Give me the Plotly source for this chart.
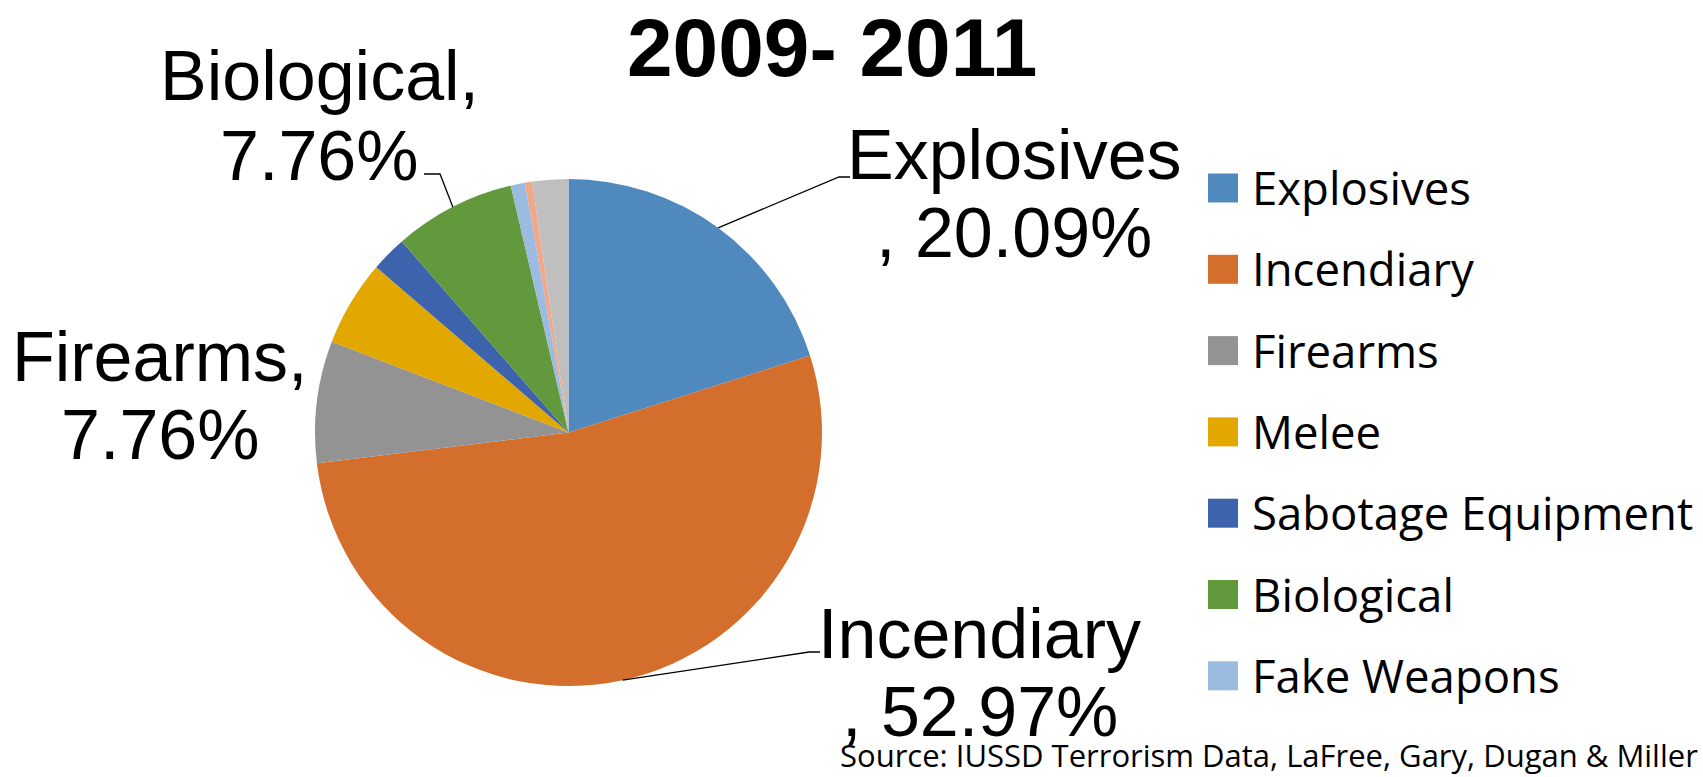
import math
import plotly.graph_objects as go

# ---------------- data ----------------
categories = ["Explosives", "Incendiary", "Firearms", "Melee", "Sabotage Equipment",
              "Biological", "Fake Weapons", "Chemical", "Other"]
shares = [20.09, 52.97, 7.76, 5.48, 2.28, 7.76, 0.91, 0.46, 2.29]
colors = ["#4F89BD", "#D36E2C", "#939393", "#E2A800", "#3D63AC",
          "#63993D", "#9BBBE0", "#F0A88A", "#BFBFBF"]
legend_items = categories[:7]
title_text = "2009- 2011"
source_text = "Source: IUSSD Terrorism Data, LaFree, Gary, Dugan & Miller"
# labelled slices: comma placement as in the original (wrapped before or after comma)
comma_on_second_line = {"Explosives": True, "Incendiary": True, "Firearms": False, "Biological": False}

# ---------------- layout geometry (pixels) ----------------
W, H = 1703, 777
CX, CY, R = 568.5, 432.5, 253.5


def px(x):
    return x / W


def py(y):
    return 1 - y / H


fig = go.Figure()
fig.add_trace(go.Pie(
    labels=categories, values=shares, sort=False, direction="clockwise", rotation=0,
    marker=dict(colors=colors, line=dict(width=0)),
    textinfo="none", showlegend=False, hoverinfo="label+percent",
    domain=dict(x=[px(CX - R), px(CX + R)], y=[py(CY + R), py(CY - R)]),
))

annotations = []
shapes = []

# title
annotations.append(dict(text="<b>" + title_text + "</b>", x=px(832), y=py(48), xref="paper", yref="paper",
                        xanchor="center", yanchor="middle", showarrow=False,
                        font=dict(family="Liberation Sans Narrow, Liberation Sans, Arial, sans-serif",
                                  size=82, color="black")))

# data labels (positions of text centres / baselines, and leader elbows)
label_pos = {
    "Biological": dict(cx=319, b1=99, b2=179, elbow=(440, 174), end=(424, 174)),
    "Explosives": dict(cx=1014, b1=178, b2=256, elbow=(839, 177), end=(850, 177)),
    "Firearms": dict(cx=160, b1=380, b2=458, elbow=None, end=None),
    "Incendiary": dict(cx=980, b1=657, b2=735, elbow=(809, 652), end=(820, 652)),
}
LFS = 70
total = sum(shares)
cum = 0.0
for name, v in zip(categories, shares):
    mid = (cum + v / 2) / total * 2 * math.pi
    cum += v
    if name not in label_pos:
        continue
    p = label_pos[name]
    pct = f"{v / total * 100:.2f}%"
    if comma_on_second_line[name]:
        l1, l2 = name, ", " + pct
    else:
        l1, l2 = name + ",", pct
    for txt, base in ((l1, p["b1"]), (l2, p["b2"])):
        annotations.append(dict(text=txt, x=px(p["cx"]), y=py(base - 0.33 * LFS), xref="paper", yref="paper",
                                xanchor="center", yanchor="middle", showarrow=False,
                                font=dict(family="Liberation Sans, Arial, sans-serif", size=LFS, color="black")))
    if p["elbow"] is not None:
        sx = CX + R * math.sin(mid)
        sy = CY - R * math.cos(mid)
        ex, ey = p["elbow"]
        tx, ty = p["end"]
        path = f"M {px(sx)},{py(sy)} L {px(ex)},{py(ey)} L {px(tx)},{py(ty)}"
        shapes.append(dict(type="path", path=path, xref="paper", yref="paper",
                           line=dict(color="black", width=1.3)))

# legend (drawn manually: only the first seven categories are listed)
LEG_Y0, LEG_DY = 188, 81.3
for i, name in enumerate(legend_items):
    yc = LEG_Y0 + i * LEG_DY
    shapes.append(dict(type="rect", xref="paper", yref="paper",
                       x0=px(1208), x1=px(1238), y0=py(yc + 14.5), y1=py(yc - 14.5),
                       fillcolor=colors[i], line=dict(width=0)))
    annotations.append(dict(text=name, x=px(1250), y=py(yc - 1), xref="paper", yref="paper",
                            xanchor="left", yanchor="middle", showarrow=False,
                            font=dict(family="Open Sans, Noto Sans, sans-serif", size=45.5, color="black")))

# source
annotations.append(dict(text=source_text, x=px(1700), y=py(778), xref="paper", yref="paper",
                        xanchor="right", yanchor="bottom", showarrow=False,
                        font=dict(family="Open Sans, Noto Sans, sans-serif", size=31, color="black")))

fig.update_layout(width=W, height=H, margin=dict(l=0, r=0, t=0, b=0),
                  paper_bgcolor="white", plot_bgcolor="white", showlegend=False,
                  annotations=annotations, shapes=shapes)

fig.write_html("out.html", config={"displayModeBar": False},
               post_script="document.body.style.margin='0';")
